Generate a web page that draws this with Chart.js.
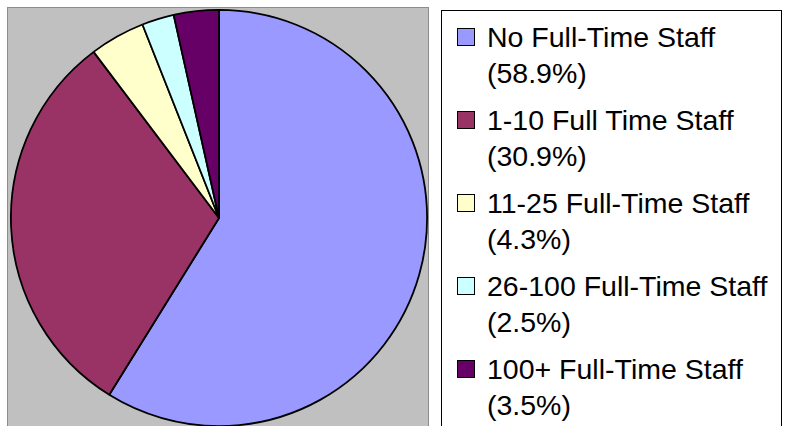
<!DOCTYPE html>
<html>
<head>
<meta charset="utf-8">
<script src="https://cdn.jsdelivr.net/npm/chart.js@4/dist/chart.umd.min.js"></script>
<style>
  body { margin: 0; background: #fff; width: 791px; height: 426px; overflow: hidden; position: relative; }
  #plot { position: absolute; left: 7px; top: 7px; width: 420px; height: 430px; background: #c0c0c0; border: 1px solid #8c8c8c; }
  #wrap { position: absolute; left: 2px; top: 1px; width: 418px; height: 418px; }
  #legend { position: absolute; left: 441px; top: 10px; width: 339px; height: 430px; border: 1px solid #000; background: #fff;
            font-family: "Liberation Sans", Arial, sans-serif; font-size: 28.5px; line-height: 36px; color: #000; }
  .item { position: absolute; left: 45px; white-space: nowrap; }
  .box { position: absolute; left: -30px; top: 9px; width: 16px; height: 16px; border: 1px solid #000; }
</style>
</head>
<body>
<div id="plot"><div id="wrap"><canvas id="myChart"></canvas></div></div>
<div id="legend"></div>
<script>
const categories = ['No Full-Time Staff', '1-10 Full Time Staff', '11-25 Full-Time Staff', '26-100 Full-Time Staff', '100+ Full-Time Staff'];
const shares = [58.9, 30.9, 4.3, 2.5, 3.5];
const colors = ['#9999ff', '#993366', '#ffffcc', '#ccffff', '#660066'];

// legend drawn as html so the labels can wrap like the original
const legend = document.getElementById('legend');
categories.forEach((name, i) => {
  const div = document.createElement('div');
  div.className = 'item';
  div.style.top = (8 + i * 83) + 'px';
  div.innerHTML = '<span class="box" style="background:' + colors[i] + '"></span>' +
    name + '<br>(' + shares[i].toFixed(1) + '%)';
  legend.appendChild(div);
});

const ctx = document.getElementById('myChart').getContext('2d');
new Chart(ctx, {
  type: 'pie',
  data: {
    labels: categories,
    datasets: [{
      data: shares,
      backgroundColor: colors,
      borderColor: '#000',
      borderWidth: 1.8
    }]
  },
  options: {
    responsive: true,
    maintainAspectRatio: false,
    animation: false,
    layout: { padding: 0 },
    plugins: {
      legend: { display: false },
      tooltip: { enabled: false }
    }
  }
});
</script>
</body>
</html>
